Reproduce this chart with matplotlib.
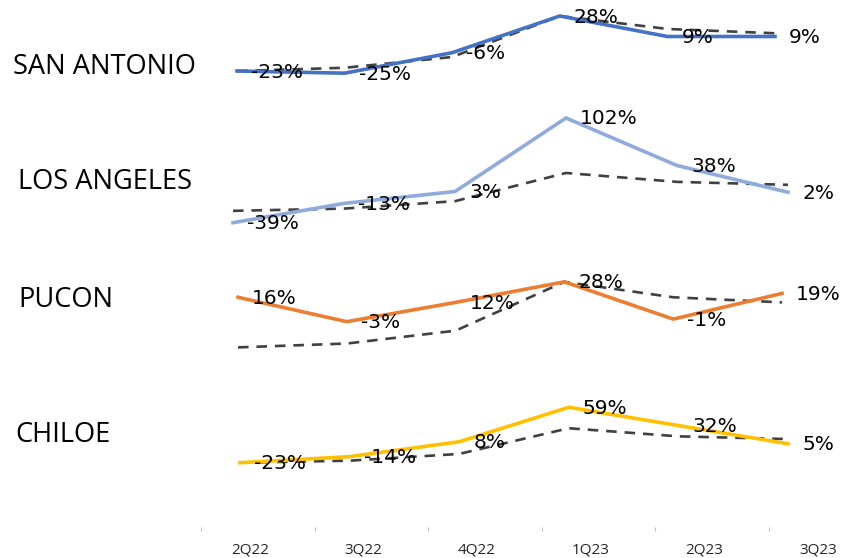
import matplotlib
matplotlib.use("Agg")
import matplotlib.pyplot as plt

# data
quarters = ["2Q22", "3Q22", "4Q22", "1Q23", "2Q23", "3Q23"]
regions = ["SAN ANTONIO", "LOS ANGELES", "PUCON", "CHILOE"]
san_antonio = [-23, -25, -6, 28, 9, 9]
los_angeles = [-39, -13, 3, 102, 38, 2]
pucon = [16, -3, 12, 28, -1, 19]
chiloe = [-23, -14, 8, 59, 32, 5]
benchmark = [-23, -20, -10, 28, 16, 12]  # dashed reference line (estimated)

series = [san_antonio, los_angeles, pucon, chiloe]
colors = ["#4472C4", "#8FAADC", "#ED7D31", "#FFC000"]

W, H = 843, 558
fig = plt.figure(figsize=(W / 100, H / 100), dpi=100)

def px_axes(x0, x1, top, bottom):
    return fig.add_axes([x0 / W, 1 - bottom / H, (x1 - x0) / W, (bottom - top) / H])

# panel boxes in pixels (left, right, top, bottom) and the y range each one shows
boxes = [(237, 775, 5, 105), (233, 788, 105, 245), (238, 782, 260, 370), (240, 788, 385, 490)]
ylims = [(-54.5, 38.2), (-69.0, 119.5), (-40.6, 45.0), (-63.4, 92.0)]
label_y = [67, 182, 300, 435]
label_x = [13, 18, 18, 15]

xs = list(range(len(quarters)))
for vals, col, box, yl, name, ly, lx in zip(series, colors, boxes, ylims, regions, label_y, label_x):
    ax = px_axes(*box)
    ax.plot(xs, benchmark, color="#404040", lw=1.9, ls=(0, (4, 3)), clip_on=False, zorder=2)
    ax.plot(xs, vals, color=col, lw=2.6, clip_on=False, zorder=3, solid_joinstyle="miter")
    for x, v in zip(xs, vals):
        ax.annotate(f"{v}%", (x, v), xytext=(14, -1), textcoords="offset pixels",
                    ha="left", va="center", fontsize=14.5, family="DejaVu Sans", color="black",
                    zorder=4, annotation_clip=False)
    ax.set_xlim(0, len(quarters) - 1)
    ax.set_ylim(*yl)
    ax.axis("off")
    fig.text(lx / W, 1 - ly / H, name, fontsize=19.6, family="Open Sans",
             ha="left", va="center", color="black")

# category axis at the bottom
axb = px_axes(201, W, 526, 527)
step = 113.6
axb.set_xlim(0, (W - 201) / step)
axb.set_ylim(0, 1)
for s in axb.spines.values():
    s.set_visible(False)
axb.set_yticks([])
axb.set_xticks(range(len(quarters)))
axb.set_xticklabels([])
axb.tick_params(axis="x", which="major", length=3, width=0.8, color="#BFBFBF")
axb.set_xticks([i + 0.43 for i in range(len(quarters))], minor=True)
axb.set_xticklabels(quarters, minor=True, fontsize=11, family="Open Sans", color="#262626")
axb.tick_params(axis="x", which="minor", length=0, pad=11)

fig.savefig("out.png", dpi=100)
